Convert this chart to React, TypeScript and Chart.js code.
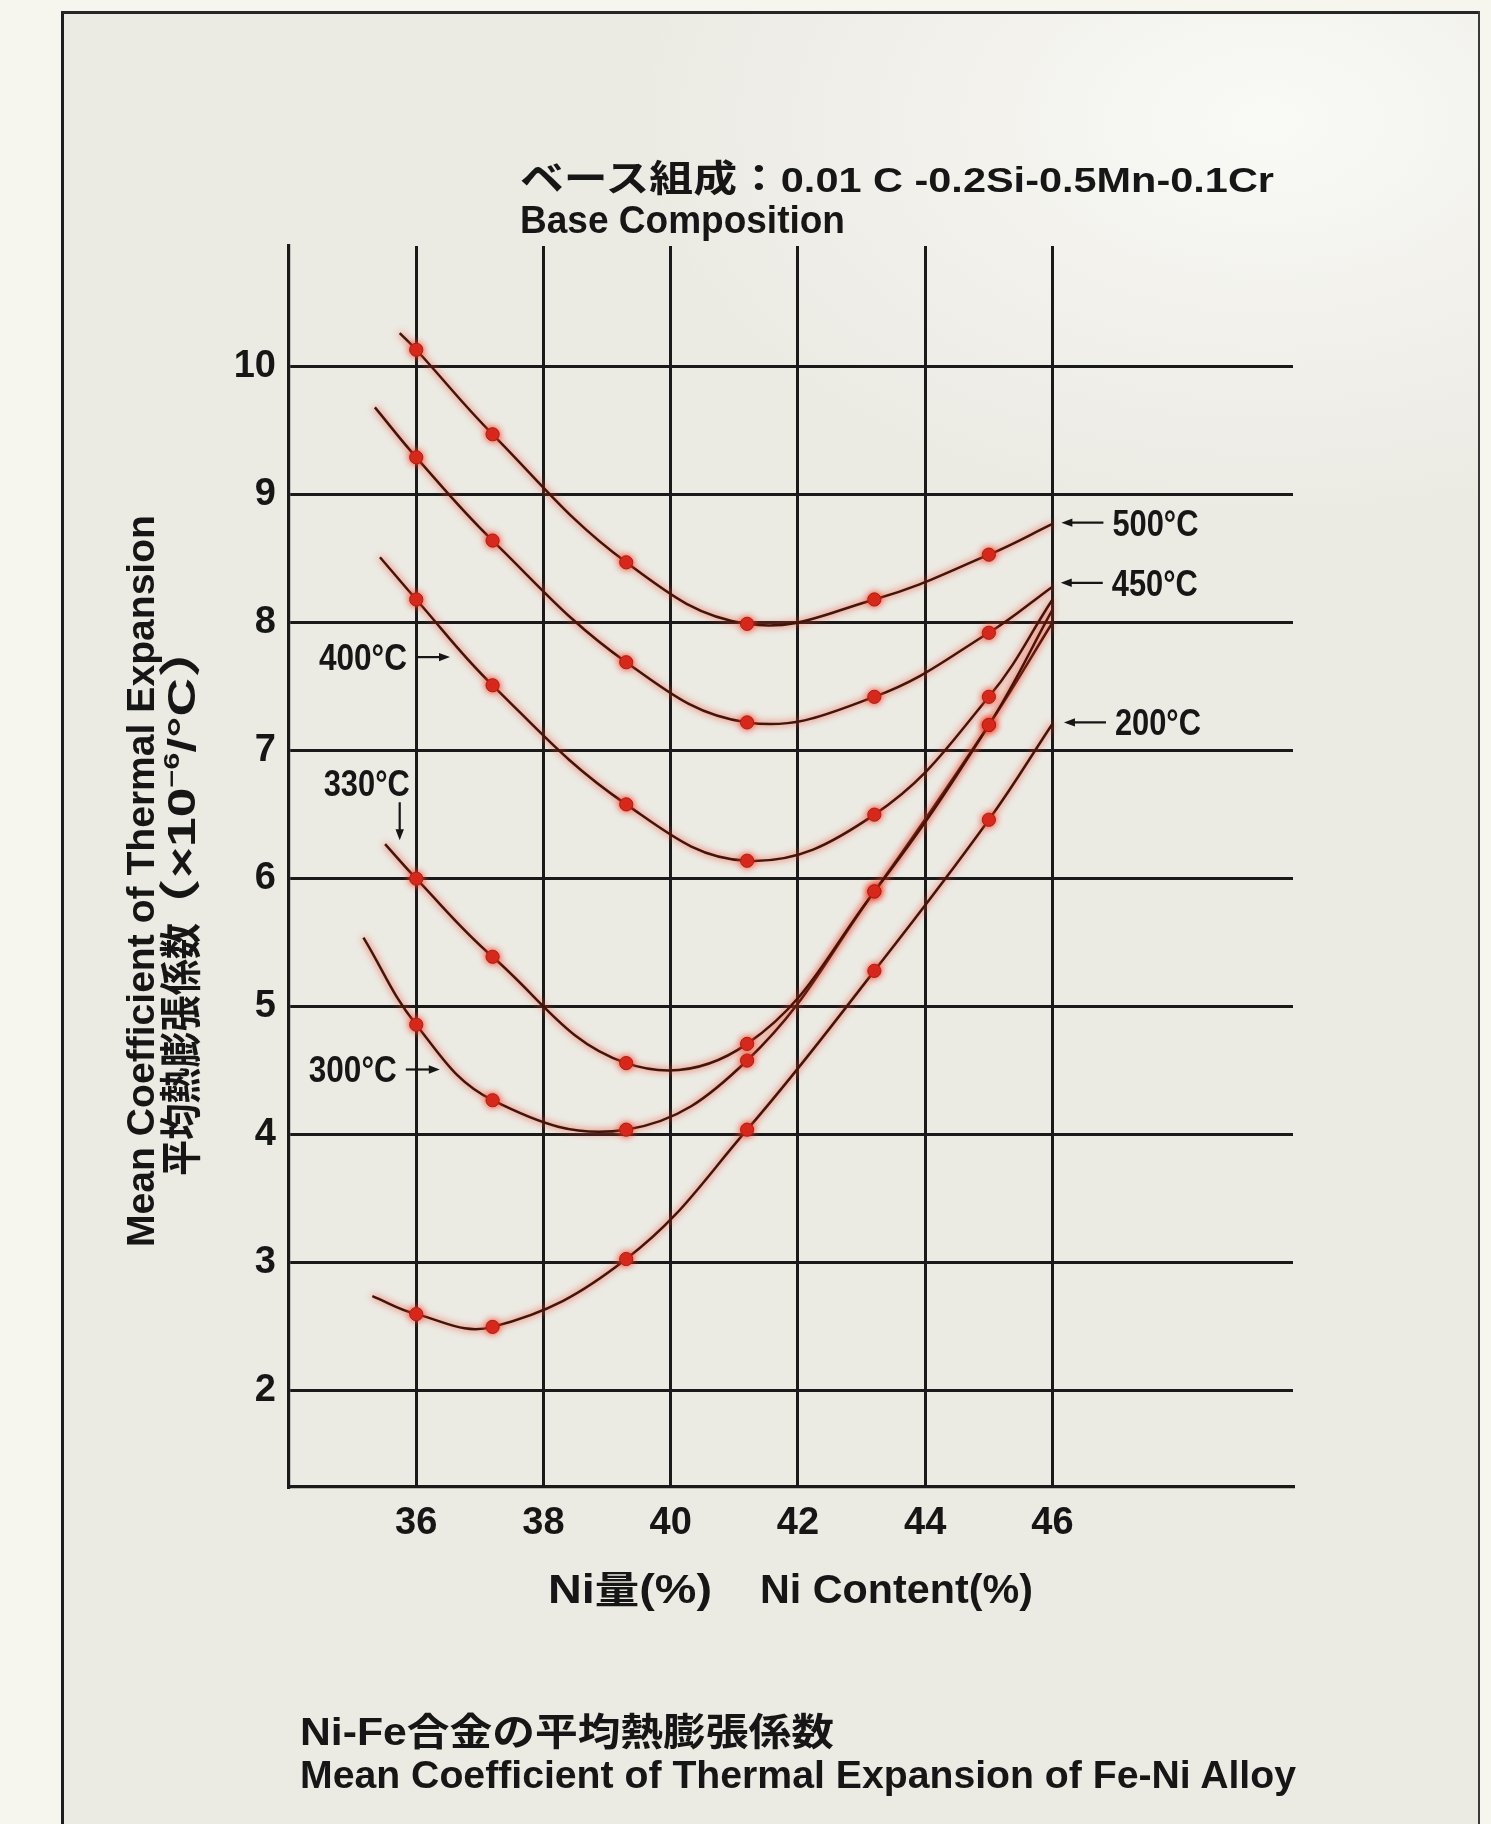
import React, { useEffect, useRef } from 'react';
import { Chart, registerables } from 'chart.js';

Chart.register(...registerables);

// ---------------- data ----------------
const seriesLabels = ['500°C', '450°C', '400°C', '330°C', '300°C', '200°C'];
const niMeasured = [36.0, 37.2, 39.3, 41.2, 43.2, 45.0];
const cte500 = [10.13, 9.47, 8.47, 7.99, 8.18, 8.53];
const cte450 = [9.29, 8.64, 7.69, 7.22, 7.42, 7.92];
const cte400 = [8.18, 7.51, 6.58, 6.14, 6.5, 7.42];
const cte330 = [6.0, 5.39, 4.56, 4.71, 5.9, 7.2];
const cte300 = [4.86, 4.27, 4.04, 4.58, 5.9, 7.2];
const cte200 = [2.6, 2.5, 3.03, 4.04, 5.28, 6.46];
const curveStartNi = [35.74, 35.35, 35.43, 35.51, 35.17, 35.31];
const curveStartCte = [10.26, 9.68, 8.51, 6.27, 5.54, 2.74];
const curveEndNi = [46.0, 46.0, 46.0, 46.0, 46.0, 46.0];
const curveEndCte = [8.77, 8.28, 8.18, 8.1, 8.0, 7.21];
const xTicks = [36, 38, 40, 42, 44, 46];
const yTicks = [2, 3, 4, 5, 6, 7, 8, 9, 10];

const seriesValues = [cte500, cte450, cte400, cte330, cte300, cte200];

// label arrows (tip position in data units, direction of the arrow)
const labelAnchors = [
  { tipX: 46.14, tipY: 8.78, dir: 'left' },
  { tipX: 46.13, tipY: 8.31, dir: 'left' },
  { tipX: 36.53, tipY: 7.73, dir: 'right' },
  { tipX: 35.74, tipY: 6.3, dir: 'down' },
  { tipX: 36.37, tipY: 4.51, dir: 'right' },
  { tipX: 46.18, tipY: 7.22, dir: 'left' },
];

const LATIN = '"Liberation Sans", Arial, Helvetica, sans-serif';
const CJK = '"Noto Sans CJK JP", "Noto Sans CJK SC", sans-serif';
const INK = '#161616';
const GRID = '#1a1a1a';

function drawArrow(ctx: CanvasRenderingContext2D, x0: number, y0: number, x1: number, y1: number) {
  const dx = x1 - x0, dy = y1 - y0;
  const len = Math.hypot(dx, dy);
  const ux = dx / len, uy = dy / len;
  const head = 11, half = 4.2;
  ctx.beginPath();
  ctx.moveTo(x0, y0);
  ctx.lineTo(x1 - ux * head * 0.8, y1 - uy * head * 0.8);
  ctx.stroke();
  ctx.beginPath();
  ctx.moveTo(x1, y1);
  ctx.lineTo(x1 - ux * head - uy * half, y1 - uy * head + ux * half);
  ctx.lineTo(x1 - ux * head + uy * half, y1 - uy * head - ux * half);
  ctx.closePath();
  ctx.fill();
}

const glowPlugin = {
  id: 'inkGlow',
  beforeDatasetDraw(chart: any) {
    const c = chart.ctx;
    c.save();
    c.shadowColor = 'rgba(240, 64, 40, 1)';
    c.shadowBlur = 7;
  },
  afterDatasetDraw(chart: any) {
    chart.ctx.restore();
  },
};

const labelPlugin = {
  id: 'seriesLabels',
  afterDatasetsDraw(chart: any) {
    const { ctx } = chart;
    const xs = chart.scales.x, ys = chart.scales.y;
    ctx.save();
    ctx.fillStyle = INK;
    ctx.strokeStyle = INK;
    ctx.lineWidth = 2.2;
    ctx.font = `bold 36px ${LATIN}`;
    ctx.textBaseline = 'alphabetic';
    labelAnchors.forEach((a, i) => {
      const px = xs.getPixelForValue(a.tipX);
      const py = ys.getPixelForValue(a.tipY);
      const text = seriesLabels[i];
      if (a.dir === 'left') {
        drawArrow(ctx, px + 42, py, px, py);
        ctx.textAlign = 'left';
        ctx.fillText(text, px + 51, py + 13, 86);
      } else if (a.dir === 'right') {
        drawArrow(ctx, px - 34, py, px, py);
        ctx.textAlign = 'right';
        ctx.fillText(text, px - 43, py + 13, 88);
      } else {
        drawArrow(ctx, px, py - 38, px, py);
        ctx.textAlign = 'center';
        ctx.fillText(text, px - 33, py - 44, 86);
      }
    });
    ctx.restore();
  },
};

export default function App() {
  const canvasRef = useRef<HTMLCanvasElement>(null);

  useEffect(() => {
    document.body.style.margin = '0';
    const canvas = canvasRef.current;
    if (!canvas) return;

    const datasets = seriesValues.map((vals, i) => ({
      label: seriesLabels[i],
      data: [
        { x: curveStartNi[i], y: curveStartCte[i] },
        ...niMeasured.map((x, j) => ({ x, y: vals[j] })),
        { x: curveEndNi[i], y: curveEndCte[i] },
      ],
      showLine: true,
      borderColor: '#441409',
      borderWidth: 2.5,
      tension: 0.4,
      pointRadius: [0, ...niMeasured.map(() => 6.6), 0],
      pointHoverRadius: 0,
      pointBackgroundColor: '#d3251a',
      pointBorderColor: '#b01a10',
      pointBorderWidth: 1,
    }));

    const tickFont = { family: LATIN, size: 38, weight: 'bold' as const };

    const chart = new Chart(canvas, {
      type: 'scatter',
      data: { datasets },
      options: {
        responsive: false,
        animation: false,
        devicePixelRatio: 1,
        layout: { padding: { left: 0, top: 246, right: 198, bottom: 0 } },
        plugins: {
          legend: { display: false },
          tooltip: { enabled: false },
          title: { display: false },
        },
        events: [],
        scales: {
          x: {
            type: 'linear',
            min: 34,
            max: 49.78,
            afterBuildTicks: (s: any) => {
              s.ticks = xTicks.map((v) => ({ value: v }));
            },
            afterFit: (s: any) => {
              s.height = 1824 - 1487;
            },
            grid: { color: GRID, lineWidth: 3, drawTicks: false },
            border: { color: GRID, width: 3.2 },
            ticks: { font: tickFont, color: INK, padding: 14, maxRotation: 0, autoSkip: false },
          },
          y: {
            type: 'linear',
            min: 1.25,
            max: 10.94,
            afterBuildTicks: (s: any) => {
              s.ticks = yTicks.map((v) => ({ value: v }));
            },
            afterFit: (s: any) => {
              s.width = 289;
            },
            grid: { color: GRID, lineWidth: 3, drawTicks: false },
            border: { color: GRID, width: 3.2 },
            ticks: { font: tickFont, color: INK, padding: 13, autoSkip: false },
          },
        },
      },
      plugins: [glowPlugin, labelPlugin],
    });

    return () => chart.destroy();
  }, []);

  const latinBold = { fontFamily: LATIN, fontWeight: 700 } as const;
  const cjkBold = { fontFamily: CJK, fontWeight: 700 } as const;

  return (
    <div
      style={{
        position: 'relative',
        width: 1491,
        height: 1824,
        overflow: 'hidden',
        background: '#f6f5ee',
      }}
    >
      <div
        style={{
          position: 'absolute',
          left: 62,
          top: 12,
          width: 1417,
          height: 1824,
          background:
            'radial-gradient(ellipse 45% 22% at 85% 6%, rgba(250,250,247,0.95) 0%, rgba(250,250,247,0) 100%), #ebeae3',
        }}
      />
      <canvas
        ref={canvasRef}
        width={1491}
        height={1824}
        style={{ position: 'absolute', left: 0, top: 0, width: 1491, height: 1824 }}
      />
      <svg
        width={1491}
        height={1824}
        style={{ position: 'absolute', left: 0, top: 0 }}
        fill={INK}
      >
        {/* frame */}
        <line x1={62.5} y1={1824} x2={62.5} y2={11} stroke="#1e1e1e" strokeWidth={3} />
        <line x1={61} y1={12.5} x2={1480} y2={12.5} stroke="#262626" strokeWidth={3} />
        <line x1={1479} y1={11} x2={1479} y2={1824} stroke="#3a3a3a" strokeWidth={2} />

        {/* base composition */}
        <text x={520} y={192} textLength={754} lengthAdjust="spacingAndGlyphs">
          <tspan style={cjkBold} fontSize={37}>ベース組成：</tspan>
          <tspan style={latinBold} fontSize={35}>0.01 C -0.2Si-0.5Mn-0.1Cr</tspan>
        </text>
        <text x={520} y={233} textLength={325} lengthAdjust="spacingAndGlyphs" style={latinBold} fontSize={38}>
          Base Composition
        </text>

        {/* y axis title */}
        <text
          transform="translate(154,1247) rotate(-90)"
          textLength={732}
          lengthAdjust="spacingAndGlyphs"
          style={latinBold}
          fontSize={38}
        >
          Mean Coefficient of Thermal Expansion
        </text>
        <text
          transform="translate(196,1176) rotate(-90)"
          textLength={253}
          lengthAdjust="spacingAndGlyphs"
          style={cjkBold}
          fontSize={42}
        >
          平均熱膨張係数
        </text>
        <text transform="translate(195,937) rotate(-90)" textLength={318} lengthAdjust="spacingAndGlyphs">
          <tspan style={cjkBold} fontSize={42}>（</tspan>
          <tspan style={latinBold} fontSize={38}>×10</tspan>
          <tspan style={latinBold} fontSize={22} dy={-16}>−6</tspan>
          <tspan style={latinBold} fontSize={38} dy={16}>/°C</tspan>
          <tspan style={cjkBold} fontSize={42}>）</tspan>
        </text>

        {/* x axis title */}
        <text x={548} y={1603} textLength={164} lengthAdjust="spacingAndGlyphs">
          <tspan style={latinBold} fontSize={40}>Ni</tspan>
          <tspan style={cjkBold} fontSize={38}>量</tspan>
          <tspan style={latinBold} fontSize={40}>(%)</tspan>
        </text>
        <text x={760} y={1603} textLength={273} lengthAdjust="spacingAndGlyphs" style={latinBold} fontSize={40}>
          Ni Content(%)
        </text>

        {/* caption */}
        <text x={300} y={1745} textLength={534} lengthAdjust="spacingAndGlyphs">
          <tspan style={latinBold} fontSize={38}>Ni-Fe</tspan>
          <tspan style={cjkBold} fontSize={38}>合金の平均熱膨張係数</tspan>
        </text>
        <text x={300} y={1788} textLength={996} lengthAdjust="spacingAndGlyphs" style={latinBold} fontSize={38}>
          Mean Coefficient of Thermal Expansion of Fe-Ni Alloy
        </text>
      </svg>
    </div>
  );
}
